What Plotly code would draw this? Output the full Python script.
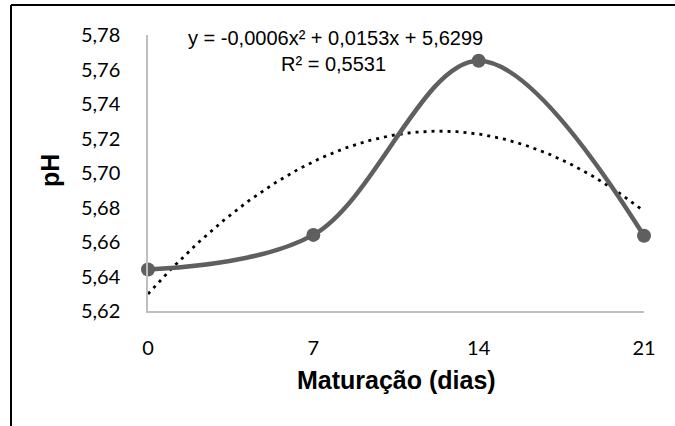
import numpy as np
import plotly.graph_objects as go

# Maturation time (days) and measured pH
dias = [0, 7, 14, 21]
ph = [5.64406, 5.66413, 5.76507, 5.66362]

y_ticks = [5.62, 5.64, 5.66, 5.68, 5.70, 5.72, 5.74, 5.76, 5.78]

# Second-order polynomial trendline fitted to the measurements
coef_a, coef_b, coef_c = np.polyfit(dias, ph, 2)
fitted = np.polyval([coef_a, coef_b, coef_c], dias)
ss_res = float(np.sum((np.array(ph) - fitted) ** 2))
ss_tot = float(np.sum((np.array(ph) - np.mean(ph)) ** 2))
r2 = 1 - ss_res / ss_tot

x_trend = np.linspace(min(dias), max(dias), 200)
y_trend = np.polyval([coef_a, coef_b, coef_c], x_trend)

W, H = 675, 426
L, R, T, B = 148, 31, 35, 115
pw, ph_px = W - L - R, H - T - B


def px_x(p):
    return (p - L) / pw


def px_y(p):
    return (H - B - p) / ph_px


def fmt(v, d=4):
    return f"{v:.{d}f}".replace(".", ",")


fig = go.Figure()

fig.add_trace(go.Scatter(
    x=x_trend, y=y_trend, mode="lines",
    line=dict(color="black", width=2.8, dash="3px,5px"),
    hoverinfo="skip", showlegend=False, cliponaxis=False,
))

fig.add_trace(go.Scatter(
    x=dias, y=ph, mode="lines+markers",
    line=dict(color="#5f5f5f", width=4.5, shape="spline", smoothing=1),
    marker=dict(color="#5f5f5f", size=14),
    showlegend=False, cliponaxis=False,
))

sign_b = "+" if coef_b >= 0 else "-"
sign_c = "+" if coef_c >= 0 else "-"
eq = (f"y = {fmt(coef_a)}x² {sign_b} {fmt(abs(coef_b))}x "
      f"{sign_c} {fmt(abs(coef_c))}")

annotations = [
    dict(text=eq, x=px_x(335), y=px_y(38)),
    dict(text=f"R² = {fmt(r2)}", x=px_x(333), y=px_y(64)),
]
annotations = [dict(a, xref="paper", yref="paper", showarrow=False,
                    xanchor="center", yanchor="middle",
                    font=dict(family="Liberation Sans, Arial", size=20,
                              color="black"))
               for a in annotations]
annotations += [
    dict(text="<b>pH</b>", x=px_x(50), y=px_y(171), textangle=-90,
         xref="paper", yref="paper", showarrow=False,
         xanchor="center", yanchor="middle",
         font=dict(family="Liberation Sans, Arial", size=25, color="black")),
    dict(text="<b>Maturação (dias)</b>", x=px_x(396), y=px_y(380),
         xref="paper", yref="paper", showarrow=False,
         xanchor="center", yanchor="middle",
         font=dict(family="Liberation Sans, Arial", size=25, color="black")),
]

fig.update_layout(
    width=W, height=H,
    margin=dict(l=L, r=R, t=T, b=B),
    paper_bgcolor="white", plot_bgcolor="white",
    separators=", ",
    annotations=annotations,
    shapes=[
        # chart frame (left and top edges visible)
        dict(type="line", xref="paper", yref="paper",
             x0=px_x(11), x1=px_x(11), y0=px_y(5), y1=px_y(440),
             line=dict(color="black", width=2)),
        dict(type="line", xref="paper", yref="paper",
             x0=px_x(11), x1=px_x(700), y0=px_y(5), y1=px_y(5),
             line=dict(color="black", width=2)),
    ],
)

tick_font = dict(family="Lato, Calibri, sans-serif", size=20, color="black")

fig.update_xaxes(
    range=[0, 21], tickvals=dias, ticktext=[str(d) for d in dias],
    showgrid=False, zeroline=False, showline=True,
    linecolor="#bfbfbf", linewidth=1.5, ticks="",
    tickfont=tick_font, ticklabelstandoff=18,
)
fig.update_yaxes(
    range=[5.62, 5.78], tickvals=y_ticks, tickformat=".2f",
    showgrid=False, zeroline=False, showline=True,
    linecolor="#bfbfbf", linewidth=1.5, ticks="",
    tickfont=tick_font, ticklabelstandoff=22,
)

fig.write_html("out.html")
